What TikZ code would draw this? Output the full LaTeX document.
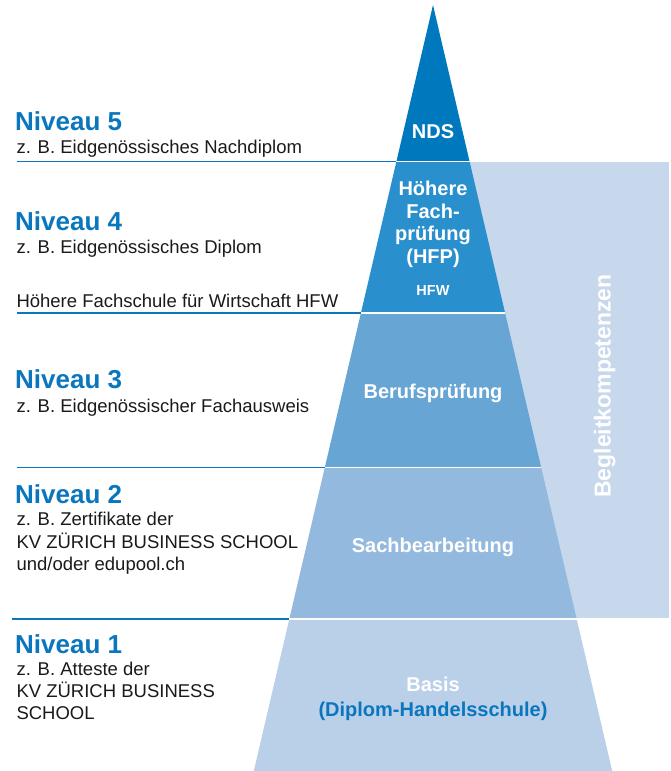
\documentclass[tikz,border=0pt]{standalone}
\usepackage{fontspec}
\setmainfont{Liberation Sans}
\definecolor{cNDS}{HTML}{0078BE}
\definecolor{cHFP}{HTML}{298FCD}
\definecolor{cBP}{HTML}{67A5D5}
\definecolor{cSB}{HTML}{94B9DE}
\definecolor{cBA}{HTML}{BACFE8}
\definecolor{cRect}{HTML}{C7D8EC}
\definecolor{tblue}{HTML}{0A76BE}
\definecolor{tblack}{HTML}{1A1A1A}
\begin{document}
\begin{tikzpicture}[x=1pt,y=-1pt,
  lvl/.style={font=\bfseries\fontsize{26}{30}\selectfont, text=tblue, anchor=base west, inner sep=0pt},
  sub/.style={font=\fontsize{18.5}{22}\selectfont, text=tblack, anchor=base west, inner sep=0pt},
  lay/.style={font=\bfseries\fontsize{20}{23}\selectfont, text=white, anchor=base, inner sep=0pt},
  sep/.style={white, line width=1.6pt},
  rule/.style={tblue, line width=1.5pt}]
\useasboundingbox (0,0) rectangle (671,771);
% pyramid geometry
\coordinate (apex) at (433,5);
\coordinate (l1) at (396.4,161.5); \coordinate (r1) at (469.6,161.5);
\coordinate (l2) at (360.9,313);   \coordinate (r2) at (505.1,313);
\coordinate (l3) at (324.8,467.5); \coordinate (r3) at (541.2,467.5);
\coordinate (l4) at (289.3,619);   \coordinate (r4) at (576.7,619);
\coordinate (l5) at (253.8,771);   \coordinate (r5) at (612.2,771);
% background band
\fill[cRect] (450,161.5) rectangle (669,618);
\node[font=\bfseries\fontsize{23}{27}\selectfont, text=white, rotate=90, anchor=base, inner sep=0pt] (beg) at (610.5,386) {Begleitkompetenzen};
% layers
\fill[cNDS] (apex) -- (r1) -- (l1) -- cycle;
\fill[cHFP] (l1) -- (r1) -- (r2) -- (l2) -- cycle;
\fill[cBP] (l2) -- (r2) -- (r3) -- (l3) -- cycle;
\fill[cSB] (l3) -- (r3) -- (r4) -- (l4) -- cycle;
\fill[cBA] (l4) -- (r4) -- (r5) -- (l5) -- cycle;
% white separators
\draw[sep] (l1) -- (r1);
\draw[sep] (l2) -- (r2);
\draw[sep] (l3) -- (r3);
\draw[sep] (l4) -- (r4);
% left rules
\coordinate (s1) at (16.7,161.5);
\coordinate (s2) at (16.7,313);
\coordinate (s3) at (16.7,467.5);
\coordinate (s4) at (11.7,619);
\draw[rule] (s1) -- (l1);
\draw[rule] (s2) -- (l2);
\draw[rule] (s3) -- (l3);
\draw[rule] (s4) -- (l4);
% layer labels
\node[lay] (nds) at (433,138) {NDS};
\node[lay] (hfp1) at (433,195) {Höhere};
\node[lay] (hfp2) at (433,218) {Fach-};
\node[lay] (hfp3) at (433,240.5) {prüfung};
\node[lay] (hfp4) at (433,263) {(HFP)};
\node[lay, font=\bfseries\fontsize{14.5}{17}\selectfont] (hfw) at (433,295) {HFW};
\node[lay] (bp) at (433,398) {Berufsprüfung};
\node[lay] (sb) at (433,552) {Sachbearbeitung};
\node[lay] (ba1) at (433,691.5) {Basis};
\node[lay, text=tblue] (ba2) at (433,716.5) {(Diplom-Handelsschule)};
% left texts
\node[lvl] (n5) at (15,130) {Niveau 5};
\node[sub] (n5a) at (16.3,153) {z. B. Eidgenössisches Nachdiplom};
\node[lvl] (n4) at (15,230) {Niveau 4};
\node[sub] (n4a) at (16.3,253) {z. B. Eidgenössisches Diplom};
\node[sub] (n4b) at (16.3,307) {Höhere Fachschule für Wirtschaft HFW};
\node[lvl] (n3) at (15,388) {Niveau 3};
\node[sub] (n3a) at (16.3,412) {z. B. Eidgenössischer Fachausweis};
\node[lvl] (n2) at (15,503) {Niveau 2};
\node[sub] (n2a) at (16.3,525.5) {z. B. Zertifikate der};
\node[sub] (n2b) at (16.3,548) {KV ZÜRICH BUSINESS SCHOOL};
\node[sub] (n2c) at (16.3,570.5) {und/oder edupool.ch};
\node[lvl] (n1) at (15,653) {Niveau 1};
\node[sub] (n1a) at (16.3,675) {z. B. Atteste der};
\node[sub] (n1b) at (16.3,697) {KV ZÜRICH BUSINESS};
\node[sub] (n1c) at (16.3,719) {SCHOOL};
\end{tikzpicture}
\end{document}
